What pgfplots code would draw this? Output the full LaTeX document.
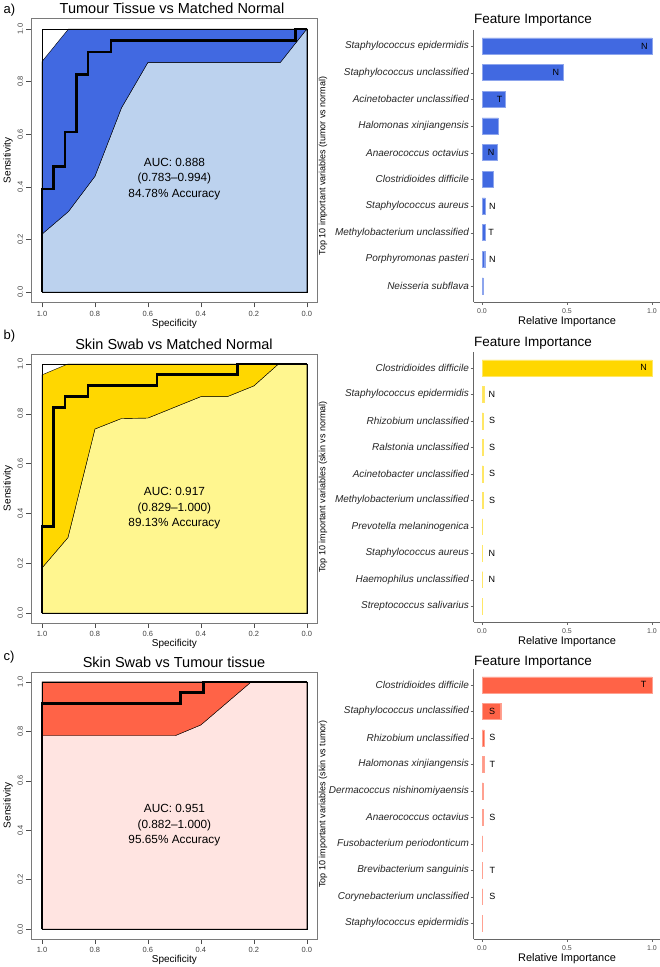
\documentclass[border=0pt]{standalone}
\usepackage{pgfplots}
\pgfplotsset{compat=1.18}
\usepackage{fontspec}
\setmainfont{Liberation Sans}
\definecolor{rblue}{HTML}{4169E1}
\definecolor{lblue}{HTML}{BCD2EE}
\definecolor{gold}{HTML}{FFD700}
\definecolor{lyellow}{HTML}{FFF68F}
\definecolor{tomato}{HTML}{FF6347}
\definecolor{mrose}{HTML}{FFE4E1}
\definecolor{framegray}{HTML}{7A7A7A}

\tikzset{lab/.style={font=\fontsize{9}{9}\selectfont}}
\pgfplotsset{
 roc/.style={scale only axis, anchor=south west, width=286pt,
   x dir=reverse, xmin=-0.04, xmax=1.04, ymin=-0.04, ymax=1.04,
   xtick={0,0.2,0.4,0.6,0.8,1}, ytick={0,0.2,0.4,0.6,0.8,1},
   xticklabels={0.0,0.2,0.4,0.6,0.8,1.0}, yticklabels={0.0,0.2,0.4,0.6,0.8,1.0},
   tick pos=left, tick align=outside, major tick length=5pt,
   axis line style={framegray, line width=0.8pt},
   tick style={black!70, line width=0.5pt},
   ticklabel style={font=\fontsize{7.5}{8}\selectfont, text=black!75},
   yticklabel style={rotate=90},
   xlabel={Specificity}, ylabel={Sensitivity},
   label style={font=\fontsize{10}{11}\selectfont},
   xlabel style={yshift=4pt}, ylabel style={yshift=-2pt},
 },
 fi/.style={scale only axis, anchor=south west, width=187pt,
   xmin=-0.05, xmax=1.05, ymin=0.4, ymax=10.6, y dir=reverse,
   axis x line*=bottom, axis y line*=left,
   axis line style={black!60, line width=0.7pt},
   tick align=outside, major tick length=3pt, tick style={black!60},
   ytick={1,...,10}, xtick={0,0.5,1}, xticklabels={0.0,0.5,1.0},
   xticklabel style={font=\fontsize{7}{8}\selectfont, text=black!70},
   yticklabel style={font=\fontsize{10}{11}\selectfont\itshape, text=black!85, xshift=2pt},
   xlabel={Relative Importance},
   xlabel style={font=\fontsize{11}{12}\selectfont, yshift=4pt},
   xbar, bar width=0.6,
 },
}

\begin{document}
\begin{tikzpicture}
\useasboundingbox (0,0) rectangle (660pt,967pt);

% ================= Panel a ROC =================
\begin{axis}[roc, at={(31.4pt,664.5pt)}, height=284pt]
\addplot[fill=lblue, draw=black, line width=0.4pt] coordinates {(1,0) (1,0.22) (0.9,0.306) (0.8,0.44) (0.7,0.70) (0.6,0.873) (0.1,0.873) (0,1) (0,0)} -- cycle;
\addplot[fill=rblue, draw=black, line width=0.4pt] coordinates {(1,0.876) (0.9,1) (0,1) (0.1,0.873) (0.6,0.873) (0.7,0.70) (0.8,0.44) (0.9,0.306) (1,0.22)} -- cycle;
\addplot[black, line width=0.5pt] coordinates {(1,0) (1,1) (0,1) (0,0) (1,0)};
\addplot[black, line width=2.6pt] coordinates {(1,0) (1,0.391) (0.957,0.391) (0.957,0.478) (0.913,0.478) (0.913,0.609) (0.870,0.609) (0.870,0.826) (0.826,0.826) (0.826,0.913) (0.739,0.913) (0.739,0.957) (0.043,0.957) (0.043,1) (0,1)};
\node[align=center, font=\fontsize{11.8}{15.5}\selectfont] at (axis cs:0.5,0.43) {AUC: 0.888\\ (0.783--0.994)\\84.78\% Accuracy};
\end{axis}

% ================= Panel b ROC =================
\begin{axis}[roc, at={(31.4pt,344pt)}, height=269pt]
\addplot[fill=lyellow, draw=black, line width=0.4pt] coordinates {(1,0) (1,0.181) (0.902,0.303) (0.80,0.739) (0.70,0.781) (0.60,0.783) (0.40,0.869) (0.30,0.869) (0.20,0.912) (0.107,1) (0,1) (0,0)} -- cycle;
\addplot[fill=gold, draw=black, line width=0.4pt] coordinates {(1,0.956) (0.902,1) (0,1) (0.107,1) (0.20,0.912) (0.30,0.869) (0.40,0.869) (0.60,0.783) (0.70,0.781) (0.80,0.739) (0.902,0.303) (1,0.181)} -- cycle;
\addplot[black, line width=0.5pt] coordinates {(1,0) (1,1) (0,1) (0,0) (1,0)};
\addplot[black, line width=2.6pt] coordinates {(1,0) (1,0.348) (0.957,0.348) (0.957,0.826) (0.913,0.826) (0.913,0.870) (0.826,0.870) (0.826,0.913) (0.565,0.913) (0.565,0.957) (0.261,0.957) (0.261,1) (0,1)};
\node[align=center, font=\fontsize{11.8}{15.5}\selectfont] at (axis cs:0.5,0.42) {AUC: 0.917\\ (0.829--1.000)\\89.13\% Accuracy};
\end{axis}

% ================= Panel c ROC =================
\begin{axis}[roc, at={(31.4pt,28pt)}, height=267pt]
\addplot[fill=mrose, draw=black, line width=0.4pt] coordinates {(1,0) (1,0.783) (0.496,0.783) (0.40,0.826) (0.21,1) (0,1) (0,0)} -- cycle;
\addplot[fill=tomato, draw=black, line width=0.4pt] coordinates {(1,1) (0,1) (0.21,1) (0.40,0.826) (0.496,0.783) (1,0.783)} -- cycle;
\addplot[black, line width=0.5pt] coordinates {(1,0) (1,1) (0,1) (0,0) (1,0)};
\addplot[black, line width=2.6pt] coordinates {(1,0) (1,0.913) (0.478,0.913) (0.478,0.957) (0.391,0.957) (0.391,1) (0,1)};
\node[align=center, font=\fontsize{11.8}{15.5}\selectfont] at (axis cs:0.5,0.42) {AUC: 0.951\\ (0.882--1.000)\\95.65\% Accuracy};
\end{axis}

% ================= Feature importance a =================
\begin{axis}[fi, at={(473.5pt,665pt)}, height=272pt,
  yticklabels={Staphylococcus epidermidis, Staphylococcus unclassified, Acinetobacter unclassified, Halomonas xinjiangensis, Anaerococcus octavius, Clostridioides difficile, Staphylococcus aureus, Methylobacterium unclassified, Porphyromonas pasteri, Neisseria subflava}]
\addplot[fill=rblue, draw=rblue!60!white, line width=0.4pt] coordinates {(1.0,1) (0.478,2) (0.136,3) (0.096,4) (0.089,5) (0.067,6) (0.020,7) (0.018,8) (0.016,9) (0.008,10)};
\node[lab] at (axis cs:0.955,1) {N};
\node[lab] at (axis cs:0.435,2) {N};
\node[lab] at (axis cs:0.104,3) {T};
\node[lab] at (axis cs:0.053,5) {N};
\node[lab] at (axis cs:0.061,7) {N};
\node[lab] at (axis cs:0.053,8) {T};
\node[lab] at (axis cs:0.061,9) {N};
\end{axis}

% ================= Feature importance b =================
\begin{axis}[fi, at={(473.5pt,345pt)}, height=270pt,
  yticklabels={Clostridioides difficile, Staphylococcus epidermidis, Rhizobium unclassified, Ralstonia unclassified, Acinetobacter unclassified, Methylobacterium unclassified, Prevotella melaninogenica, Staphylococcus aureus, Haemophilus unclassified, Streptococcus salivarius}]
\addplot[fill=gold, draw=gold!60!white, line width=0.4pt] coordinates {(1.0,1) (0.010,2) (0.006,3) (0.006,4) (0.006,5) (0.005,6) (0.003,7) (0.003,8) (0.003,9) (0.001,10)};
\node[lab] at (axis cs:0.95,1) {N};
\node[lab] at (axis cs:0.058,2) {N};
\node[lab] at (axis cs:0.059,3) {S};
\node[lab] at (axis cs:0.059,4) {S};
\node[lab] at (axis cs:0.059,5) {S};
\node[lab] at (axis cs:0.059,6) {S};
\node[lab] at (axis cs:0.058,8) {N};
\node[lab] at (axis cs:0.058,9) {N};
\end{axis}

% ================= Feature importance c =================
\begin{axis}[fi, at={(473.5pt,28pt)}, height=270pt,
  yticklabels={Clostridioides difficile, Staphylococcus unclassified, Rhizobium unclassified, Halomonas xinjiangensis, Dermacoccus nishinomiyaensis, Anaerococcus octavius, Fusobacterium periodonticum, Brevibacterium sanguinis, Corynebacterium unclassified, Staphylococcus epidermidis}]
\addplot[fill=tomato, draw=tomato!60!white, line width=0.4pt] coordinates {(1.0,1) (0.110,2) (0.012,3) (0.010,4) (0.006,5) (0.006,6) (0.004,7) (0.003,8) (0.002,9) (0.001,10)};
\node[lab] at (axis cs:0.95,1) {T};
\node[lab] at (axis cs:0.059,2) {S};
\node[lab] at (axis cs:0.061,3) {S};
\node[lab] at (axis cs:0.061,4) {T};
\node[lab] at (axis cs:0.061,6) {S};
\node[lab] at (axis cs:0.061,8) {T};
\node[lab] at (axis cs:0.061,9) {S};
\end{axis}

% ================= titles and labels =================
\node[anchor=west, font=\fontsize{13}{14}\selectfont] at (0pt,957pt) {a)};
\node[anchor=west, font=\fontsize{13}{14}\selectfont] at (0pt,631pt) {b)};
\node[anchor=west, font=\fontsize{13}{14}\selectfont] at (0pt,310pt) {c)};
\node[font=\fontsize{14.5}{15}\selectfont] at (172pt,959pt) {Tumour Tissue vs Matched Normal};
\node[font=\fontsize{14.5}{15}\selectfont] at (174pt,623pt) {Skin Swab vs Matched Normal};
\node[font=\fontsize{14.5}{15}\selectfont] at (174pt,305pt) {Skin Swab vs Tumour tissue};
\node[anchor=west, font=\fontsize{13.5}{14}\selectfont, inner sep=0pt] at (474pt,947pt) {Feature Importance};
\node[anchor=west, font=\fontsize{13.5}{14}\selectfont, inner sep=0pt] at (474pt,624pt) {Feature Importance};
\node[anchor=west, font=\fontsize{13.5}{14}\selectfont, inner sep=0pt] at (474pt,305pt) {Feature Importance};
\node[rotate=90, font=\fontsize{9}{10}\selectfont] at (323pt,801pt) {Top 10 important variables (tumor vs normal)};
\node[rotate=90, font=\fontsize{9}{10}\selectfont] at (323pt,480pt) {Top 10 important variables (skin vs normal)};
\node[rotate=90, font=\fontsize{9}{10}\selectfont] at (323pt,163pt) {Top 10 important variables (skin vs tumor)};
\end{tikzpicture}
\end{document}
